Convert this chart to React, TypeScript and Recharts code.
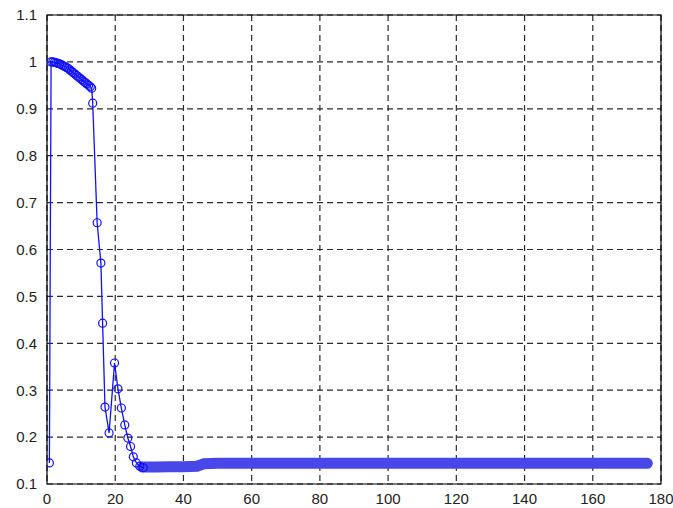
import { LineChart, Line, XAxis, YAxis, CartesianGrid, ReferenceArea } from 'recharts'

const xTicks = [0, 20, 40, 60, 80, 100, 120, 140, 160, 180]
const yTicks = [0.1, 0.2, 0.3, 0.4, 0.5, 0.6, 0.7, 0.8, 0.9, 1.0, 1.1]

// first ~28 s: rise, plateau, drop and settling (marked points)
const stepX = [0.7, 1.2, 1.7, 2.2, 2.7, 3.2, 3.7, 4.2, 4.7, 5.2, 5.7, 6.2, 6.7, 7.2, 7.7, 8.2, 8.7, 9.2, 9.7, 10.2, 10.7, 11.2, 11.7, 12.2, 12.7, 13.1, 13.4, 14.7, 15.8, 16.3, 17.0, 18.2, 19.8, 20.8, 21.8, 22.8, 23.7, 24.5, 25.3, 26.2, 27.2, 28.2]
const stepY = [0.145, 1.0, 1.0, 0.999, 0.998, 0.997, 0.996, 0.994, 0.992, 0.99, 0.988, 0.986, 0.983, 0.98, 0.977, 0.974, 0.971, 0.968, 0.965, 0.962, 0.959, 0.956, 0.953, 0.95, 0.947, 0.944, 0.912, 0.657, 0.571, 0.443, 0.264, 0.209, 0.358, 0.303, 0.262, 0.226, 0.198, 0.18, 0.158, 0.145, 0.138, 0.135]

// steady state, dense markers merge into a band
const tailX = [28, 32, 36, 40, 44, 46, 50, 60, 70, 80, 90, 100, 110, 120, 130, 140, 150, 160, 170, 176]
const tailY = [0.136, 0.136, 0.137, 0.137, 0.138, 0.143, 0.144, 0.144, 0.144, 0.144, 0.144, 0.144, 0.144, 0.144, 0.144, 0.144, 0.144, 0.144, 0.144, 0.144]

const stepData = stepX.map((x, i) => ({ x, y: stepY[i] }))
const tailData = tailX.map((x, i) => ({ x, y: tailY[i] }))

const fmt = (v: number) => String(Math.round(v * 10) / 10)
const tickStyle = { fontSize: 15, fill: '#222', fontFamily: 'Liberation Sans, Arial, sans-serif' }

export default function App() {
  return (
    <div style={{ width: 673, height: 508, background: '#fff' }}>
      <style>{'body{margin:0}'}</style>
      <LineChart width={673} height={508} margin={{ top: 15, right: 12, left: 0, bottom: 0 }}>
        <CartesianGrid stroke="#2a2a2a" strokeWidth={1.2} strokeDasharray="6 4" />
        <XAxis dataKey="x" type="number" domain={[0, 180]} ticks={xTicks} height={24}
          tickSize={0} tickMargin={9} axisLine={false} tick={tickStyle} allowDataOverflow />
        <YAxis dataKey="y" type="number" domain={[0.1, 1.1]} ticks={yTicks} width={47}
          tickSize={0} tickMargin={10} axisLine={false} tick={tickStyle} tickFormatter={fmt} allowDataOverflow />
        <ReferenceArea x1={0} x2={180} y1={0.1} y2={1.1} fill="none" stroke="#000" strokeWidth={1.2} />
        <Line data={tailData} dataKey="y" stroke="#4848e8" strokeWidth={11} strokeLinecap="round"
          dot={false} isAnimationActive={false} />
        <Line data={stepData} dataKey="y" stroke="#1010ff" strokeWidth={1.3}
          dot={{ r: 4, stroke: '#1010ff', strokeWidth: 1.2, fill: 'none' }} isAnimationActive={false} />
      </LineChart>
    </div>
  )
}
